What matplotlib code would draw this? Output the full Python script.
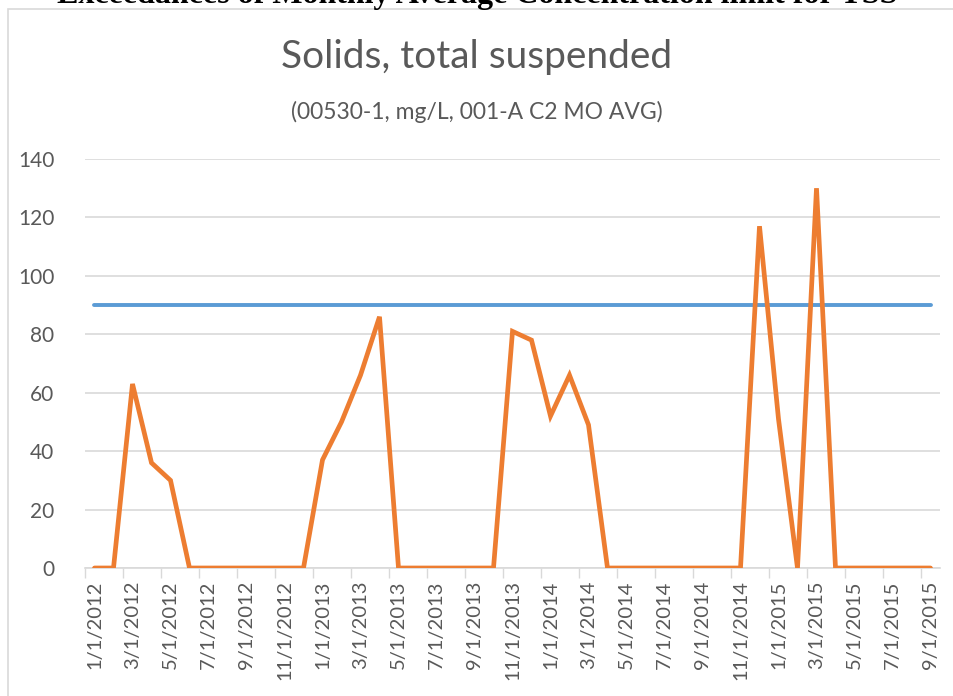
import numpy as np
import matplotlib.pyplot as plt
from matplotlib.patches import Rectangle

# monthly averages, 1/1/2012 .. 9/1/2015
tss = [0, 0, 63, 36, 30, 0, 0, 0, 0, 0, 0, 0,
       37, 50, 66, 86, 0, 0, 0, 0, 0, 0, 81, 78,
       52, 66, 49, 0, 0, 0, 0, 0, 0, 0, 0, 117,
       51, 0, 130, 0, 0, 0, 0, 0, 0]
limit = [90] * len(tss)
tick_labels = ['1/1/2012', '3/1/2012', '5/1/2012', '7/1/2012', '9/1/2012', '11/1/2012',
               '1/1/2013', '3/1/2013', '5/1/2013', '7/1/2013', '9/1/2013', '11/1/2013',
               '1/1/2014', '3/1/2014', '5/1/2014', '7/1/2014', '9/1/2014', '11/1/2014',
               '1/1/2015', '3/1/2015', '5/1/2015', '7/1/2015', '9/1/2015']
y_ticks = [0, 20, 40, 60, 80, 100, 120, 140]

plt.rcParams['font.family'] = ['Lato', 'DejaVu Sans']
grey = '#595959'
light = '#d9d9d9'

fig = plt.figure(figsize=(9.54, 6.96), dpi=100)
ax = fig.add_axes([85/954, 128/696, 855/954, 409/696])

x = np.arange(len(tss))
ax.plot(x, limit, color='#5B9BD5', lw=2.8, solid_capstyle='round', zorder=3)
ax.plot(x, tss, color='#ED7D31', lw=3.4, solid_capstyle='round', solid_joinstyle='miter', zorder=4)

ax.set_xlim(-0.5, len(tss) - 0.5)
ax.set_ylim(0, 140)
ax.set_yticks(y_ticks)
ax.set_xticks(x[::2])
ax.set_xticklabels(tick_labels, rotation=90)
ax.set_xticks(np.arange(-0.5, len(tss) - 0.5, 2), minor=True)
ax.tick_params(axis='x', which='major', length=0, pad=9, labelsize=14.5, labelcolor=grey)
ax.tick_params(axis='x', which='minor', length=7, width=1, color=light)
ax.tick_params(axis='y', length=0, pad=22, labelsize=15, labelcolor=grey)
ax.grid(axis='y', color=light, lw=1.2)
ax.set_axisbelow(True)
for s in ['left', 'right', 'top']:
    ax.spines[s].set_visible(False)
ax.spines['bottom'].set_color(light)
ax.spines['bottom'].set_linewidth(1.2)

# chart frame, runs off the right and bottom edges
fig.patches.append(Rectangle((8/954, -0.1), 1.0, 1.1 - 9/696, transform=fig.transFigure,
                             fill=False, edgecolor=light, lw=1.2))

fig.text(0.5, 1 - 57/696, 'Solids, total suspended', ha='center', va='center',
         fontsize=28, color=grey)
fig.text(0.5, 1 - 112/696, '(00530-1, mg/L, 001-A C2 MO AVG)', ha='center', va='center',
         fontsize=16.5, color=grey)
# heading of the page above the chart, mostly cut off
fig.text(0.5, 1 - 2.5/696, 'Exceedances of Monthly Average Concentration limit for TSS',
         ha='center', va='baseline', fontsize=23, fontweight='bold',
         family='Liberation Serif', color='black')

fig.savefig('out.png', dpi=100)
